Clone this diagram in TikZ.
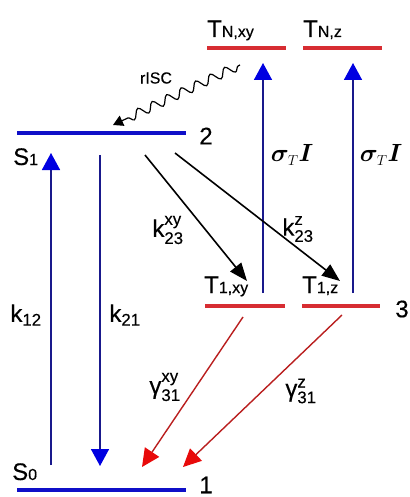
\documentclass[tikz,border=0pt]{standalone}
\usepackage{amsmath}
\usepackage{bm}
\usepackage{fontspec}
\setmainfont{Liberation Sans}[FakeBold=0.3,UprightFeatures={FakeBold=0.3}]
\usetikzlibrary{arrows.meta,decorations.pathmorphing}
\definecolor{lvlblue}{RGB}{15,15,200}
\definecolor{arrblue}{RGB}{25,25,140}
\definecolor{headblue}{RGB}{0,0,225}
\definecolor{lvlred}{RGB}{215,45,50}
\definecolor{arrred}{RGB}{185,30,30}
\definecolor{headred}{RGB}{232,10,10}
\newcommand{\smlfnt}{\fontsize{16}{18}\selectfont}
\begin{document}
\begin{tikzpicture}[x=1pt,y=-1pt,
  bluelevel/.style={draw=lvlblue,line width=4.5pt},
  redlevel/.style={draw=lvlred,line width=4.5pt},
  bluearrow/.style={draw=arrblue,line width=1.6pt,-{Triangle[width=18pt,length=17pt,color=headblue]}},
  blackarrow/.style={draw=black,line width=1.6pt,-{Triangle[width=14pt,length=18pt]}},
  redarrow/.style={draw=arrred,line width=1.4pt,-{Triangle[width=17pt,length=18pt,color=headred]}},
  lab/.style={inner sep=0pt,font=\fontsize{24}{26}\selectfont},
  sigl/.style={inner sep=0pt,font=\fontsize{29}{31}\selectfont}]
\useasboundingbox (0,0) rectangle (409,497);
% levels
\draw[bluelevel] (17,133) coordinate (s1l) -- (186,133) coordinate (s1r);
\draw[bluelevel] (17,490) coordinate (s0l) -- (186,490) coordinate (s0r);
\draw[redlevel] (205,306) coordinate (t1xyl) -- (285,306) coordinate (t1xyr);
\draw[redlevel] (302,306) coordinate (t1zl) -- (380,306) coordinate (t1zr);
\draw[redlevel] (207,48) coordinate (tnxyl) -- (286,48) coordinate (tnxyr);
\draw[redlevel] (303,48) coordinate (tnzl) -- (382,48) coordinate (tnzr);
% level labels
\node[lab] (n2) at (206,136) {2};
\node[lab] (n1) at (206,485) {1};
\node[lab] (n3) at (402,309) {3};
\node[lab,anchor=base west] (ls1) at (13,165) {S{\smlfnt 1}};
\node[lab,anchor=base west] (ls0) at (12,480) {S{\smlfnt 0}};
\node[lab,anchor=base west] (lt1xy) at (204,293) {T{\smlfnt 1,xy}};
\node[lab,anchor=base west] (lt1z) at (302,293) {T{\smlfnt 1,z}};
\node[lab,anchor=base west] (ltnxy) at (207,37) {T{\smlfnt N,xy}};
\node[lab,anchor=base west] (ltnz) at (303,37) {T{\smlfnt N,z}};
% coordinates for arrows
\coordinate (a12s) at (51,465);  \coordinate (a12e) at (51,153);
\coordinate (a21s) at (100,155); \coordinate (a21e) at (100,466);
\coordinate (sxs) at (263,293);  \coordinate (sxe) at (263,63);
\coordinate (szs) at (353,293);  \coordinate (sze) at (353,63);
\coordinate (kxs) at (145,155);  \coordinate (kxe) at (247,281);
\coordinate (kzs) at (175,153);  \coordinate (kze) at (340,281);
\coordinate (gxs) at (243,317);  \coordinate (gxe) at (142,467);
\coordinate (gzs) at (342,315);  \coordinate (gze) at (183,467);
\coordinate (rs) at (240,65);    \coordinate (re) at (113,125);
% arrows
\draw[bluearrow] (a12s) -- (a12e);
\draw[bluearrow] (a21s) -- (a21e);
\draw[bluearrow] (sxs) -- (sxe);
\draw[bluearrow] (szs) -- (sze);
\draw[blackarrow] (kxs) -- (kxe);
\draw[blackarrow] (kzs) -- (kze);
\draw[redarrow] (gxs) -- (gxe);
\draw[redarrow] (gzs) -- (gze);
\draw[line width=1.2pt,-{Triangle[width=11pt,length=10pt]},
  decorate,decoration={snake,amplitude=4.5pt,segment length=16pt,pre length=2pt,post length=10pt}]
  (rs) -- (re);
% arrow labels
\node[lab] (lk12) at (26,315) {$\text{k}_{\text{12}}$};
\node[lab] (lk21) at (125,315) {$\text{k}_{\text{21}}$};
\node[lab] (lk23xy) at (168,230) {$\text{k}^{\text{xy}}_{\text{23}}$};
\node[lab] (lk23z) at (298,229) {$\text{k}^{\text{z}}_{\text{23}}$};
\node[lab] (lgxy) at (165,387) {$\text{γ}^{\text{xy}}_{\text{31}}$};
\node[lab] (lgz) at (301,391) {$\text{γ}^{\text{z}}_{\text{31}}$};
\node[sigl] (lsx) at (292,155) {$\bm{\sigma}_{\scriptscriptstyle T}\bm{I}$};
\node[sigl] (lsz) at (381,155) {$\bm{\sigma}_{\scriptscriptstyle T}\bm{I}$};
\node[inner sep=0pt,font=\fontsize{16}{18}\selectfont] (lrisc) at (156,78) {rISC};
\end{tikzpicture}
\end{document}
